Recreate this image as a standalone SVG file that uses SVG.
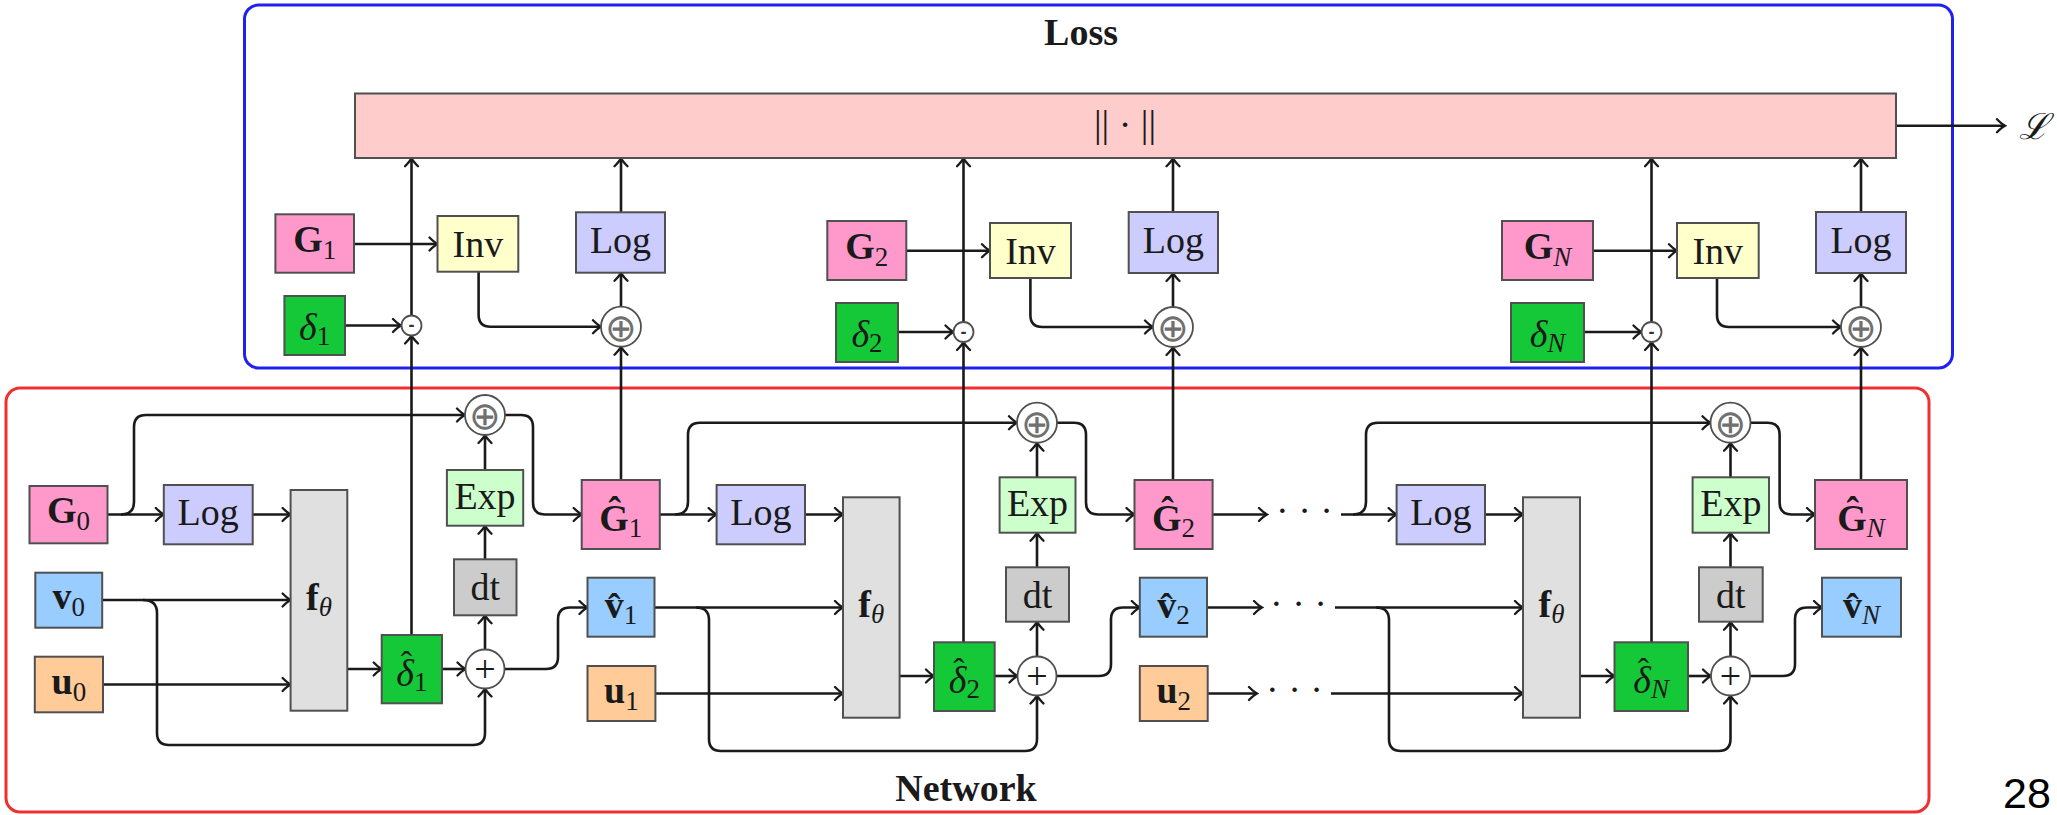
<svg xmlns="http://www.w3.org/2000/svg" width="2057" height="815" viewBox="0 0 2057 815">
<defs>
<marker id="ah" viewBox="-10 -8 12 16" refX="0" refY="0" markerWidth="12" markerHeight="16" markerUnits="userSpaceOnUse" orient="auto">
<path d="M -8 -6.5 Q -3 -1.5 0 0 Q -3 1.5 -8 6.5" fill="none" stroke="#1a1a1a" stroke-width="2.3" stroke-linecap="round"/>
</marker>
</defs>
<style>
.bx{stroke:#505050;stroke-width:2}
.ln{fill:none;stroke:#1a1a1a;stroke-width:2.6}
.ar{marker-end:url(#ah)}
.t{font-family:"Liberation Serif",serif;font-size:38px;fill:#1a1a1a;text-anchor:middle}
.b{font-weight:bold}
.i{font-style:italic}
.s{font-size:27px}
.hat{font-size:34px;font-style:normal}
.op{fill:#fff;stroke:#505050;stroke-width:1.8}
.sym{font-family:"DejaVu Sans",sans-serif;fill:#707070;text-anchor:middle}
.mn{font-family:"Liberation Sans",sans-serif;font-weight:bold;font-size:18px;fill:#333;text-anchor:middle}
.pk{fill:#FF99CC}.lg{fill:#CCCCFF}.iv{fill:#FFFFCC}.dg{fill:#14C838}.ex{fill:#CCFFCC}.dt{fill:#CCCCCC}.ff{fill:#E0E0E0}.vb{fill:#99CCFF}.uo{fill:#FFCC99}
</style>

<g id="loss-frame">
<rect x="244.5" y="5" width="1708" height="363" rx="14" fill="none" stroke="#2020F0" stroke-width="3"/>
<text class="t b" x="1081" y="45" font-size="36">Loss</text>
</g>
<g id="network-frame">
<rect x="6" y="388" width="1923" height="424" rx="14" fill="none" stroke="#F03030" stroke-width="3"/>
<text class="t b" x="966" y="801" font-size="38">Network</text>
</g>

<g id="connectors">
<path class="ln ar" d="M 1896 125.7 H 2005"/>
<path class="ln ar" d="M 354 244 H 437.5"/>
<path class="ln ar" d="M 345 325.5 H 401"/>
<path class="ln ar" d="M 478.6 271.7 V 314.7 Q 478.6 326.7 490.6 326.7 H 601"/>
<path class="ln ar" d="M 411.5 315.5 V 158.3"/>
<path class="ln ar" d="M 621 306.7 V 272.7"/>
<path class="ln ar" d="M 621 212.3 V 158.3"/>
<path class="ln ar" d="M 906.3 250.7 H 990"/>
<path class="ln ar" d="M 898 332 H 953.5"/>
<path class="ln ar" d="M 1030.4 278 V 315 Q 1030.4 327 1042.4 327 H 1153"/>
<path class="ln ar" d="M 963.5 322 V 158.3"/>
<path class="ln ar" d="M 1173 307 V 273"/>
<path class="ln ar" d="M 1173 212 V 158.3"/>
<path class="ln ar" d="M 1593 250.7 H 1677"/>
<path class="ln ar" d="M 1584 332 H 1641.5"/>
<path class="ln ar" d="M 1717 278 V 315 Q 1717 327 1729 327 H 1841"/>
<path class="ln ar" d="M 1651.5 322 V 158.3"/>
<path class="ln ar" d="M 1861 307 V 273"/>
<path class="ln ar" d="M 1861 212 V 158.3"/>

<path class="ln ar" d="M 411.5 635 V 335.5"/>
<path class="ln ar" d="M 621 480 V 346.7"/>
<path class="ln ar" d="M 963.5 642.3 V 342"/>
<path class="ln ar" d="M 1173 480 V 347"/>
<path class="ln ar" d="M 1651.5 642.3 V 342"/>
<path class="ln ar" d="M 1861 480 V 347"/>

<path class="ln ar" d="M 107.5 514.5 H 163.8"/>
<path class="ln ar" d="M 121 514.5 Q 134 514.5 134 502 V 427 Q 134 415 146 415 H 465"/>
<path class="ln ar" d="M 252.7 514.5 H 290.6"/>
<path class="ln ar" d="M 102.2 600 H 290.6"/>
<path class="ln ar" d="M 143 600 Q 157 600 157 613 V 733 Q 157 745 169 745 H 473 Q 485 745 485 733 V 688.5"/>
<path class="ln ar" d="M 103 684.5 H 290.6"/>
<path class="ln ar" d="M 347.3 669 H 381.7"/>
<path class="ln ar" d="M 442 669 H 465.5"/>
<path class="ln ar" d="M 485 649.5 V 615.3"/>
<path class="ln ar" d="M 485 559.3 V 525.7"/>
<path class="ln ar" d="M 485 470 V 435"/>
<path class="ln ar" d="M 505 415 H 521 Q 533 415 533 427 V 502.5 Q 533 514.5 545 514.5 H 581.7"/>
<path class="ln ar" d="M 504.5 669 H 546 Q 558 669 558 657 V 619.5 Q 558 607.5 570 607.5 H 587.5"/>

<path class="ln ar" d="M 659.8 514.5 H 716.6"/>
<path class="ln ar" d="M 675 514.5 Q 688 514.5 688 502 V 434.7 Q 688 422.7 700 422.7 H 1017"/>
<path class="ln ar" d="M 805 514.5 H 843"/>
<path class="ln ar" d="M 654.5 607.5 H 843"/>
<path class="ln ar" d="M 696 607.5 Q 709 607.5 709 620 V 739 Q 709 751 721 751 H 1025 Q 1037 751 1037 739 V 695.5"/>
<path class="ln ar" d="M 655.4 693.5 H 843"/>
<path class="ln ar" d="M 899.6 676 H 934"/>
<path class="ln ar" d="M 994.7 676 H 1017.5"/>
<path class="ln ar" d="M 1037 656.5 V 621.7"/>
<path class="ln ar" d="M 1037 567.3 V 532.7"/>
<path class="ln ar" d="M 1037 477.3 V 442.7"/>
<path class="ln ar" d="M 1057 422.7 H 1074 Q 1086 422.7 1086 434.7 V 502.5 Q 1086 514.5 1098 514.5 H 1134.5"/>
<path class="ln ar" d="M 1056.5 676 H 1099 Q 1111 676 1111 664 V 619.5 Q 1111 607.5 1123 607.5 H 1139.8"/>

<path class="ln ar" d="M 1212.6 514.5 H 1267"/>
<path class="ln ar" d="M 1207 607.5 H 1262"/>
<path class="ln ar" d="M 1207.7 693.5 H 1257"/>
<text class="t" x="1304.5" y="523" font-size="36">· · ·</text>
<text class="t" x="1298.5" y="616" font-size="36">· · ·</text>
<text class="t" x="1294.5" y="702" font-size="36">· · ·</text>
<path class="ln ar" d="M 1341 514.5 H 1396.6"/>
<path class="ln ar" d="M 1353 514.5 Q 1366 514.5 1366 502 V 434.7 Q 1366 422.7 1378 422.7 H 1710.5"/>
<path class="ln ar" d="M 1335 607.5 H 1523"/>
<path class="ln ar" d="M 1376 607.5 Q 1389 607.5 1389 620 V 739 Q 1389 751 1401 751 H 1718.5 Q 1730.5 751 1730.5 739 V 695.5"/>
<path class="ln ar" d="M 1331 693.5 H 1523"/>

<path class="ln ar" d="M 1485 514.5 H 1523"/>
<path class="ln ar" d="M 1580 676 H 1614.5"/>
<path class="ln ar" d="M 1688 676 H 1711"/>
<path class="ln ar" d="M 1730.5 656.5 V 621.7"/>
<path class="ln ar" d="M 1730.5 567.3 V 532.7"/>
<path class="ln ar" d="M 1730.5 477.3 V 442.7"/>
<path class="ln ar" d="M 1750.5 422.7 H 1767.6 Q 1779.6 422.7 1779.6 434.7 V 502.5 Q 1779.6 514.5 1791.6 514.5 H 1815"/>
<path class="ln ar" d="M 1750 676 H 1783 Q 1795 676 1795 664 V 619.5 Q 1795 607.5 1807 607.5 H 1822"/>
</g>

<g id="norm-bar"><rect class="bx" x="355" y="93.5" width="1541" height="64.5" fill="#FFCCCC"/><text class="t" x="1125" y="136.5" font-size="40">|| · ||</text></g>
<g id="loss-L"><text x="2019" y="139" font-family="DejaVu Serif, serif" font-style="italic" font-size="36" fill="#1a1a1a">ℒ</text></g>
<g id="page-number"><text x="2003" y="808" font-family="Liberation Sans, Arial, sans-serif" font-size="43" fill="#000">28</text></g>

<g id="G1"><rect class="bx pk" x="275.4" y="214.3" width="78.6" height="58.4"/><text class="t" x="314.7" y="252"><tspan class="b">G</tspan><tspan class="s" dy="7">1</tspan></text></g>
<g id="Inv1"><rect class="bx iv" x="437.5" y="216" width="80.8" height="55.7"/><text class="t" x="477.9" y="257">Inv</text></g>
<g id="LogL1"><rect class="bx lg" x="576" y="212.3" width="89" height="60.4"/><text class="t" x="620.5" y="253">Log</text></g>
<g id="delta1"><rect class="bx dg" x="284.4" y="296" width="60.6" height="59"/><text class="t" x="314.7" y="340"><tspan class="i">δ</tspan><tspan class="s" dy="5">1</tspan></text></g>
<g id="minus1"><circle class="op" cx="411.5" cy="325.5" r="10"/><text class="mn" x="411.5" y="331">-</text></g>
<g id="oplusL1"><circle class="op" cx="621" cy="326.7" r="20"/><text class="sym" x="621" y="340.7" font-size="38">⊕</text></g>

<g id="G2"><rect class="bx pk" x="827.3" y="221" width="79" height="59"/><text class="t" x="866.8" y="259"><tspan class="b">G</tspan><tspan class="s" dy="7">2</tspan></text></g>
<g id="Inv2"><rect class="bx iv" x="990" y="223" width="81" height="55"/><text class="t" x="1030.5" y="263.5">Inv</text></g>
<g id="LogL2"><rect class="bx lg" x="1128.7" y="212" width="89.3" height="61"/><text class="t" x="1173.3" y="253">Log</text></g>
<g id="delta2"><rect class="bx dg" x="836" y="303" width="62" height="59"/><text class="t" x="867" y="347"><tspan class="i">δ</tspan><tspan class="s" dy="5">2</tspan></text></g>
<g id="minus2"><circle class="op" cx="963.5" cy="332" r="10"/><text class="mn" x="963.5" y="337.5">-</text></g>
<g id="oplusL2"><circle class="op" cx="1173" cy="327" r="20"/><text class="sym" x="1173" y="341" font-size="38">⊕</text></g>

<g id="GN"><rect class="bx pk" x="1502" y="221" width="91" height="59"/><text class="t" x="1547.5" y="259"><tspan class="b">G</tspan><tspan class="s i" dy="7">N</tspan></text></g>
<g id="InvN"><rect class="bx iv" x="1677" y="223" width="81.7" height="55"/><text class="t" x="1717.8" y="263.5">Inv</text></g>
<g id="LogLN"><rect class="bx lg" x="1816" y="212" width="90" height="61"/><text class="t" x="1861" y="253">Log</text></g>
<g id="deltaN"><rect class="bx dg" x="1511" y="303" width="73" height="59"/><text class="t" x="1547.5" y="347"><tspan class="i">δ</tspan><tspan class="s i" dy="5">N</tspan></text></g>
<g id="minusN"><circle class="op" cx="1651.5" cy="332" r="10"/><text class="mn" x="1651.5" y="337.5">-</text></g>
<g id="oplusLN"><circle class="op" cx="1861" cy="327" r="20"/><text class="sym" x="1861" y="341" font-size="38">⊕</text></g>

<g id="G0"><rect class="bx pk" x="29.5" y="486" width="78" height="57.3"/><text class="t" x="68.5" y="523"><tspan class="b">G</tspan><tspan class="s" dy="7">0</tspan></text></g>
<g id="LogN1"><rect class="bx lg" x="163.8" y="485" width="88.9" height="59.3"/><text class="t" x="208.2" y="525">Log</text></g>
<g id="f1"><rect class="bx ff" x="290.6" y="490" width="56.7" height="220.7"/><text class="t" x="319" y="610"><tspan class="b">f</tspan><tspan class="s i" dy="6">θ</tspan></text></g>
<g id="v0"><rect class="bx vb" x="35.3" y="572.7" width="66.9" height="55"/><text class="t" x="68.7" y="609"><tspan class="b">v</tspan><tspan class="s" dy="7">0</tspan></text></g>
<g id="u0"><rect class="bx uo" x="34.8" y="656.7" width="68.2" height="55.6"/><text class="t" x="68.9" y="693.5"><tspan class="b">u</tspan><tspan class="s" dy="7">0</tspan></text></g>
<g id="dhat1"><rect class="bx dg" x="381.7" y="635" width="60.3" height="68.3"/><text class="t" x="411.8" y="686"><tspan class="i">δ</tspan><tspan class="hat" dx="-13.2" dy="-11">ˆ</tspan><tspan class="s" dx="1.9" dy="16">1</tspan></text></g>
<g id="plus1"><circle class="op" cx="485" cy="669" r="19.5"/><text class="t" x="485" y="682" font-size="40" fill="#707070">+</text></g>
<g id="dt1"><rect class="bx dt" x="454" y="559.3" width="62.5" height="56"/><text class="t" x="485.2" y="600">dt</text></g>
<g id="Exp1"><rect class="bx ex" x="446.9" y="470" width="76.3" height="55.7"/><text class="t" x="485" y="508.5">Exp</text></g>
<g id="oplusN1"><circle class="op" cx="485" cy="415" r="20"/><text class="sym" x="485" y="429" font-size="38">⊕</text></g>
<g id="Ghat1"><rect class="bx pk" x="581.7" y="480" width="78.1" height="69"/><text class="t" x="620.7" y="531"><tspan class="b">Ĝ</tspan><tspan class="s" dy="6">1</tspan></text></g>
<g id="vhat1"><rect class="bx vb" x="587.5" y="577.7" width="67" height="59"/><text class="t" x="621" y="618"><tspan class="b">v̂</tspan><tspan class="s" dy="6">1</tspan></text></g>
<g id="u1"><rect class="bx uo" x="587.5" y="666" width="67.9" height="55"/><text class="t" x="621.4" y="703"><tspan class="b">u</tspan><tspan class="s" dy="7">1</tspan></text></g>

<g id="LogN2"><rect class="bx lg" x="716.6" y="485" width="88.4" height="59.3"/><text class="t" x="760.8" y="525">Log</text></g>
<g id="f2"><rect class="bx ff" x="843" y="497.3" width="56.6" height="220.4"/><text class="t" x="871.3" y="617"><tspan class="b">f</tspan><tspan class="s i" dy="6">θ</tspan></text></g>
<g id="dhat2"><rect class="bx dg" x="934" y="642.3" width="60.7" height="68.7"/><text class="t" x="964.3" y="693"><tspan class="i">δ</tspan><tspan class="hat" dx="-13.2" dy="-11">ˆ</tspan><tspan class="s" dx="1.9" dy="16">2</tspan></text></g>
<g id="plus2"><circle class="op" cx="1037" cy="676" r="19.5"/><text class="t" x="1037" y="689" font-size="40" fill="#707070">+</text></g>
<g id="dt2"><rect class="bx dt" x="1006" y="567.3" width="63" height="54.4"/><text class="t" x="1037.5" y="608">dt</text></g>
<g id="Exp2"><rect class="bx ex" x="999.6" y="477.3" width="75.9" height="55.4"/><text class="t" x="1037.5" y="515.5">Exp</text></g>
<g id="oplusN2"><circle class="op" cx="1037" cy="422.7" r="20"/><text class="sym" x="1037" y="436.7" font-size="38">⊕</text></g>
<g id="Ghat2"><rect class="bx pk" x="1134.5" y="480" width="78.1" height="69"/><text class="t" x="1173.5" y="531"><tspan class="b">Ĝ</tspan><tspan class="s" dy="6">2</tspan></text></g>
<g id="vhat2"><rect class="bx vb" x="1139.8" y="577.7" width="67.2" height="59"/><text class="t" x="1173.4" y="618"><tspan class="b">v̂</tspan><tspan class="s" dy="6">2</tspan></text></g>
<g id="u2"><rect class="bx uo" x="1139.8" y="666" width="67.9" height="55"/><text class="t" x="1173.7" y="703"><tspan class="b">u</tspan><tspan class="s" dy="7">2</tspan></text></g>

<g id="LogNN"><rect class="bx lg" x="1396.6" y="485" width="88.4" height="59.3"/><text class="t" x="1440.8" y="525">Log</text></g>
<g id="fN"><rect class="bx ff" x="1523" y="497.3" width="57" height="220.4"/><text class="t" x="1551.5" y="617"><tspan class="b">f</tspan><tspan class="s i" dy="6">θ</tspan></text></g>
<g id="dhatN"><rect class="bx dg" x="1614.5" y="642.3" width="73.5" height="68.7"/><text class="t" x="1651.2" y="693"><tspan class="i">δ</tspan><tspan class="hat" dx="-13.2" dy="-11">ˆ</tspan><tspan class="s i" dx="1.9" dy="16">N</tspan></text></g>
<g id="plusN"><circle class="op" cx="1730.5" cy="676" r="19.5"/><text class="t" x="1730.5" y="689" font-size="40" fill="#707070">+</text></g>
<g id="dtN"><rect class="bx dt" x="1699" y="567.3" width="63.7" height="54.4"/><text class="t" x="1730.8" y="608">dt</text></g>
<g id="ExpN"><rect class="bx ex" x="1692.6" y="477.3" width="76.4" height="55.4"/><text class="t" x="1730.8" y="515.5">Exp</text></g>
<g id="oplusNN"><circle class="op" cx="1730.5" cy="422.7" r="20"/><text class="sym" x="1730.5" y="436.7" font-size="38">⊕</text></g>
<g id="GhatN"><rect class="bx pk" x="1815" y="480" width="92" height="69"/><text class="t" x="1861" y="531"><tspan class="b">Ĝ</tspan><tspan class="s i" dy="6">N</tspan></text></g>
<g id="vhatN"><rect class="bx vb" x="1822" y="577.7" width="79" height="59"/><text class="t" x="1861.5" y="618"><tspan class="b">v̂</tspan><tspan class="s i" dy="6">N</tspan></text></g>
</svg>
